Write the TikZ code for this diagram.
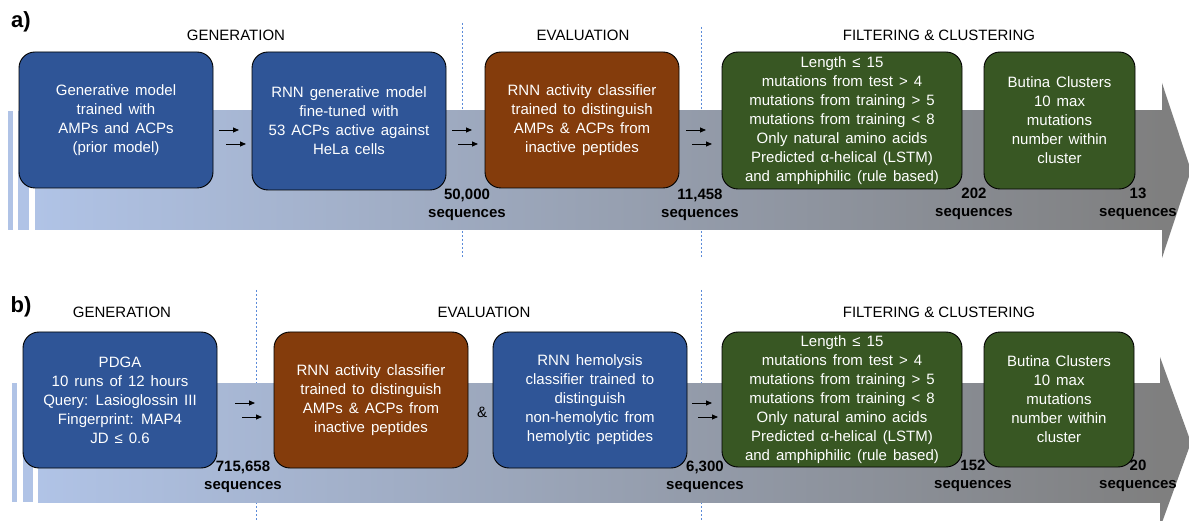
\documentclass[tikz,border=0pt]{standalone}
\usepackage{fontspec}
\setmainfont{Liberation Sans}
\usetikzlibrary{arrows.meta}
\definecolor{boxblue}{HTML}{2F5597}
\definecolor{boxbrown}{HTML}{843C0C}
\definecolor{boxgreen}{HTML}{385723}
\definecolor{bandblue}{HTML}{B0C3E6}
\definecolor{bandgray}{HTML}{7F7F7F}
\definecolor{sepblue}{HTML}{5B8BD9}
\newcommand{\boxfont}{\fontsize{15}{19}\selectfont\spaceskip=0.4em plus 0.1em\relax}
\tikzset{
  box/.style={draw=black, line width=0.9pt, rounded corners=16pt, text=white, align=center,
    font=\boxfont, inner sep=0pt},
  countlbl/.style={font=\bfseries\fontsize{15}{18}\selectfont, align=center, inner sep=0pt},
  phase/.style={font=\fontsize{15}{18}\selectfont, inner sep=0pt},
  sepline/.style={sepblue, line width=0.8pt, dash pattern=on 2pt off 2pt},
  flow/.style={-{Triangle[length=6pt,width=5pt]}, line width=0.8pt},
  panel/.style={font=\bfseries\fontsize{22}{24}\selectfont, inner sep=0pt},
}
\begin{document}
\begin{tikzpicture}[x=1pt,y=-1pt]
\useasboundingbox (0,0) rectangle (1189,521);
% ---------------- panel a ----------------
\draw[sepline] (462,23) -- (462,258);
\draw[sepline] (701,27) -- (701,258);
\fill[bandblue] (8,111) rectangle (13,230);
\fill[bandblue] (18,111) rectangle (29,230);
\shade[left color=bandblue, right color=bandgray] (35,111) rectangle (1163,230);
\fill[bandgray] (1162,83) -- (1191,170.5) -- (1162,258) -- cycle;

\node[panel] (la) at (21,22) {a)};
\node[phase] (ga) at (236,35) {GENERATION};
\node[phase] (ea) at (583,35) {EVALUATION};
\node[phase] (fa) at (939,35) {FILTERING \& CLUSTERING};

\node[box, fill=boxblue, minimum width=194pt, minimum height=136pt] (a1) at (116,120)
  {Generative model\\trained with\\AMPs and ACPs\\(prior model)};
\node[box, fill=boxblue, minimum width=194pt, minimum height=138pt] (a2) at (349,121)
  {RNN generative model\\fine-tuned with\\53 ACPs active against\\HeLa cells};
\node[box, fill=boxbrown, minimum width=194pt, minimum height=136pt] (a3) at (582,120)
  {RNN activity classifier\\trained to distinguish\\AMPs \& ACPs from\\inactive peptides};
\node[box, fill=boxgreen, minimum width=240pt, minimum height=137pt] (a4) at (842,120.5)
  {Length ≤ 15\\mutations from test > 4\\mutations from training > 5\\mutations from training < 8\\Only natural amino acids\\Predicted α-helical (LSTM)\\and amphiphilic (rule based)};
\node[box, fill=boxgreen, minimum width=151pt, minimum height=137pt] (a5) at (1059.5,120.5)
  {Butina Clusters\\10 max\\mutations\\number within\\cluster};

\coordinate (a12a) at (219,130); \coordinate (a12b) at (226,144);
\coordinate (a23a) at (452,130); \coordinate (a23b) at (458,144);
\coordinate (a34a) at (686,130); \coordinate (a34b) at (692,144);
\draw[flow] (a12a) -- ++(20,0);
\draw[flow] (a12b) -- ++(20,0);
\draw[flow] (a23a) -- ++(20,0);
\draw[flow] (a23b) -- ++(20,0);
\draw[flow] (a34a) -- ++(20,0);
\draw[flow] (a34b) -- ++(20,0);

\node[countlbl] (ca1) at (467,205) {50,000\\sequences};
\node[countlbl] (ca2) at (700,205) {11,458\\sequences};
\node[countlbl] (ca3) at (974,204) {202\\sequences};
\node[countlbl] (ca4) at (1138,204) {13\\sequences};

% ---------------- panel b ----------------
\draw[sepline] (256,290) -- (256,521);
\draw[sepline] (701,290) -- (701,521);
\fill[bandblue] (12,383) rectangle (17,502);
\fill[bandblue] (23,383) rectangle (33,502);
\shade[left color=bandblue, right color=bandgray] (38,383) rectangle (1161,502);
\fill[bandgray] (1160,357) -- (1191,442.5) -- (1160,528) -- cycle;

\node[panel] (lb) at (21,307) {b)};
\node[phase] (gb) at (122,312) {GENERATION};
\node[phase] (eb) at (484,312) {EVALUATION};
\node[phase] (fb) at (939,312) {FILTERING \& CLUSTERING};

\node[box, fill=boxblue, minimum width=194pt, minimum height=136pt] (b1) at (120,400)
  {PDGA\\10 runs of 12 hours\\Query: Lasioglossin III\\Fingerprint: MAP4\\JD ≤ 0.6};
\node[box, fill=boxbrown, minimum width=194pt, minimum height=136pt] (b2) at (371,400)
  {RNN activity classifier\\trained to distinguish\\AMPs \& ACPs from\\inactive peptides};
\node[phase] (amp) at (482,412) {\&};
\node[box, fill=boxblue, minimum width=194pt, minimum height=136pt] (b3) at (590,400)
  {RNN hemolysis\\classifier trained to\\distinguish\\non-hemolytic from\\hemolytic peptides};
\node[box, fill=boxgreen, minimum width=240pt, minimum height=135pt] (b4) at (842,399.5)
  {Length ≤ 15\\mutations from test > 4\\mutations from training > 5\\mutations from training < 8\\Only natural amino acids\\Predicted α-helical (LSTM)\\and amphiphilic (rule based)};
\node[box, fill=boxgreen, minimum width=150pt, minimum height=135pt] (b5) at (1059,399.5)
  {Butina Clusters\\10 max\\mutations\\number within\\cluster};

\coordinate (b12a) at (235,403); \coordinate (b12b) at (242,417);
\coordinate (b34a) at (692,403); \coordinate (b34b) at (698,417);
\draw[flow] (b12a) -- ++(20,0);
\draw[flow] (b12b) -- ++(20,0);
\draw[flow] (b34a) -- ++(20,0);
\draw[flow] (b34b) -- ++(20,0);

\node[countlbl] (cb1) at (243,477) {715,658\\sequences};
\node[countlbl] (cb2) at (705,477) {6,300\\sequences};
\node[countlbl] (cb3) at (973,476) {152\\sequences};
\node[countlbl] (cb4) at (1138,476) {20\\sequences};
\end{tikzpicture}
\end{document}
